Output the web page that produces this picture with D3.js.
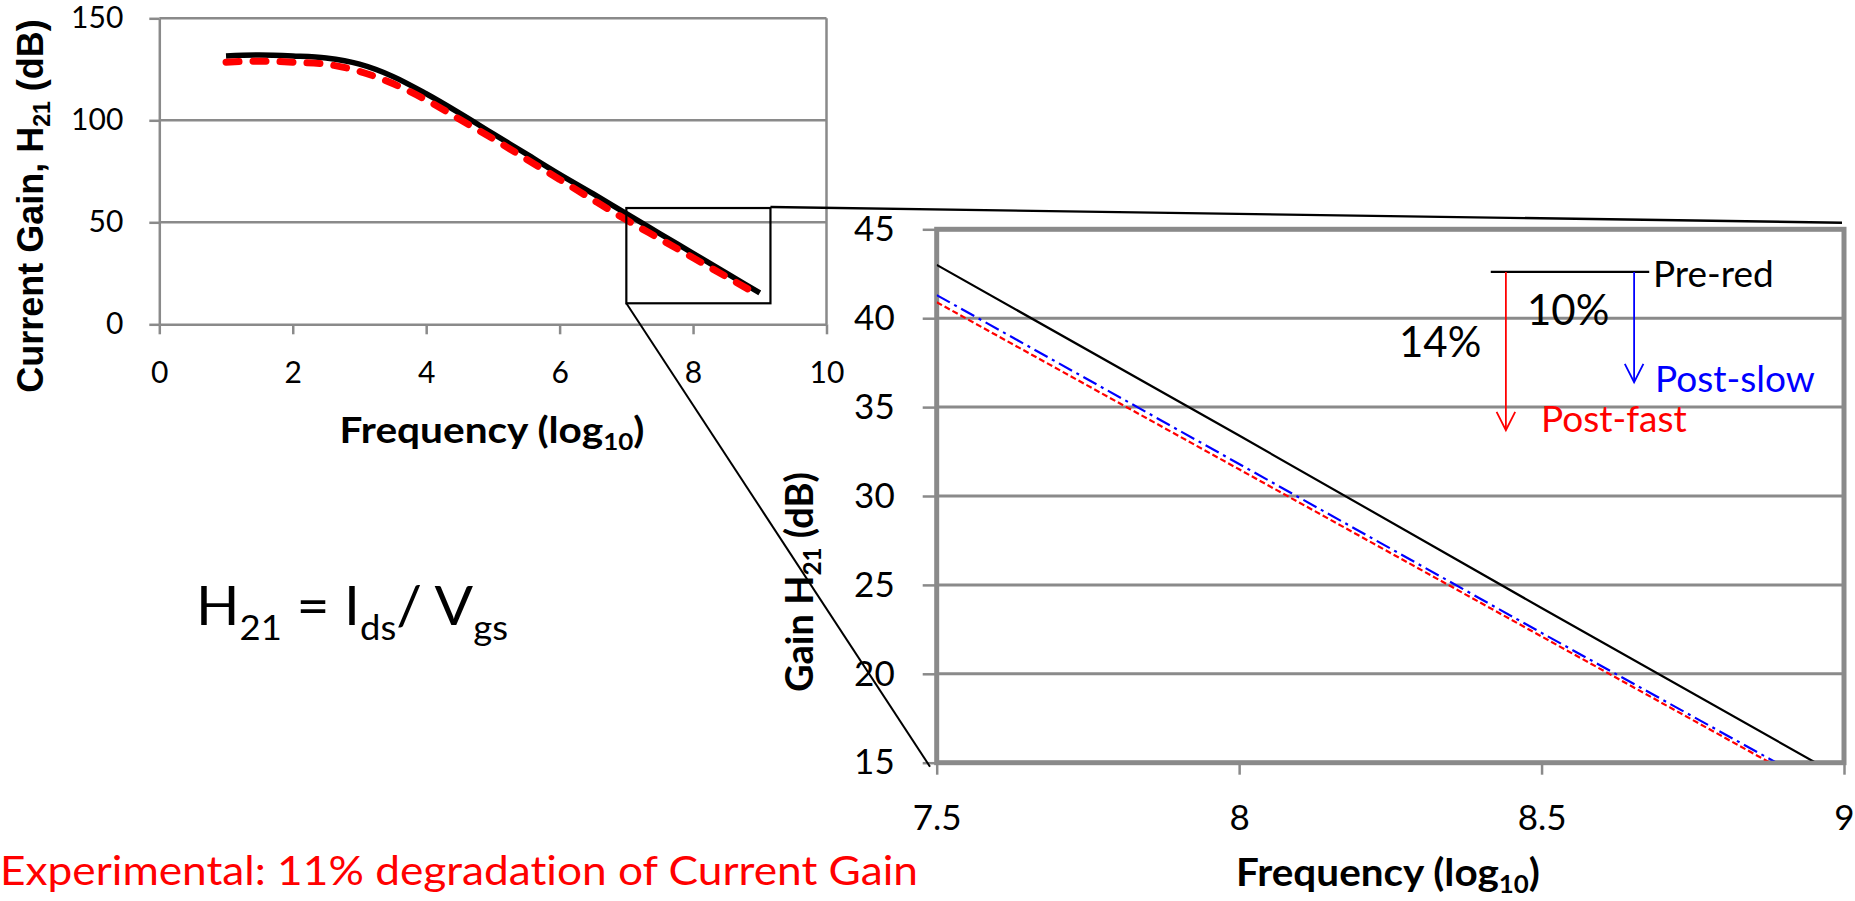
<!DOCTYPE html>
<html>
<head>
<meta charset="utf-8">
<script src="https://cdn.jsdelivr.net/npm/d3@7"></script>
<style>
  body { margin: 0; background: #fff; }
  svg { display: block; }
  text { font-variant-ligatures: none; font-feature-settings: "liga" 0; }
</style>
</head>
<body>
<svg id="chart" width="1855" height="901"></svg>
<script>
// ---- Overview chart: full sweep, log10 frequency vs current gain (dB)
const overviewFreq   = [1, 1.5, 2, 2.5, 3, 3.5, 4, 4.5, 5, 5.5, 6, 6.5, 7, 7.5, 8, 8.5, 9];
const overviewPreRed = [131.5, 132, 131.5, 130.5, 127.5, 121.5, 113, 103.5, 93.5, 83.5, 73.5, 64, 54.2, 44.5, 34.8, 25.1, 15.4];
const overviewPost   = [128.5, 129, 128.5, 127.5, 124, 118, 110, 100.5, 91, 81, 71, 61, 51.2, 41.9, 32.6, 23.3, 14.0];
const overviewXTicks = [0, 2, 4, 6, 8, 10];
const overviewYTicks = [0, 50, 100, 150];
// region of the overview that is enlarged in the detail chart
const zoomFreqRange = [7.0, 9.16];
const zoomGainRange = [10.3, 57];

// ---- Detail chart: 7.5 .. 9 decades
const detailFreq     = [7.5, 8, 8.5, 9];
const detailPreRed   = [43.0, 33.4, 23.7, 14.1];
const detailPostSlow = [41.3, 31.8, 22.3, 12.9];
const detailPostFast = [40.9, 31.5, 22.1, 12.7];
const detailXTicks   = [7.5, 8, 8.5, 9];
const detailYTicks   = [15, 20, 25, 30, 35, 40, 45];

// ---- Degradation annotation (detail chart data units)
const refBarFreq    = [8.416, 8.678];
const refBarGain    = 42.6;
const arrowFreq     = [8.441, 8.653];
const arrowEndGain  = [33.7, 36.4];
const arrowColors   = ["#ff0000", "#0000ff"];
const arrowPercents = ["14%", "10%"];

const GRID = "#8a8a8a";
const FONT = "Lato, 'Open Sans', sans-serif";
const svg = d3.select("#chart");

// text with subscript runs: parts = [[text, isSub], ...]
function richText(sel, parts, size, subShift) {
  let shifted = false;
  parts.forEach(([t, sub]) => {
    const ts = sel.append("tspan").text(t);
    if (sub && !shifted) { ts.attr("dy", subShift).attr("font-size", size * 0.64); shifted = true; }
    else if (!sub && shifted) { ts.attr("dy", -subShift); shifted = false; }
    else if (sub) ts.attr("font-size", size * 0.64);
  });
  return sel;
}

// ================= Overview chart =================
const ox = d3.scaleLinear().domain([0, 10]).range([159.3, 826.5]);
const oy = d3.scaleLinear().domain([0, 150]).range([324.3, 18.3]);
const ov = svg.append("g");

ov.selectAll("line.grid").data(overviewYTicks.filter(d => d > 0)).join("line")
  .attr("class", "grid")
  .attr("x1", ox(0)).attr("x2", ox(10))
  .attr("y1", d => oy(d)).attr("y2", d => oy(d))
  .attr("stroke", GRID).attr("stroke-width", 2.5);
ov.append("line")
  .attr("x1", ox(10)).attr("x2", ox(10)).attr("y1", oy(150)).attr("y2", oy(0))
  .attr("stroke", GRID).attr("stroke-width", 2.5);

function styleAxis(g, fontSize) {
  g.selectAll(".domain").attr("stroke", GRID).attr("stroke-width", 2.5);
  g.selectAll(".tick line").attr("stroke", GRID).attr("stroke-width", 2.5);
  g.selectAll(".tick text").attr("fill", "#000").attr("font-family", FONT).attr("font-size", fontSize);
}

ov.append("g").attr("transform", `translate(${ox(0)},0)`)
  .call(d3.axisLeft(oy).tickValues(overviewYTicks).tickSize(10).tickSizeOuter(0).tickPadding(26))
  .call(g => styleAxis(g, 30));
ov.append("g").attr("transform", `translate(0,${oy(0)})`)
  .call(d3.axisBottom(ox).tickValues(overviewXTicks).tickSize(10).tickSizeOuter(0).tickPadding(27))
  .call(g => styleAxis(g, 30));

const oLine = d3.line().x(d => ox(d[0])).y(d => oy(d[1])).curve(d3.curveMonotoneX);
ov.append("path").datum(d3.zip(overviewFreq, overviewPreRed))
  .attr("d", oLine).attr("fill", "none").attr("stroke", "#000").attr("stroke-width", 5.5);
ov.append("path").datum(d3.zip(overviewFreq, overviewPost))
  .attr("d", oLine).attr("fill", "none").attr("stroke", "#ff0000").attr("stroke-width", 7)
  .attr("stroke-dasharray", "13,14").attr("stroke-linecap", "round");

// enlarged window
ov.append("rect")
  .attr("x", ox(zoomFreqRange[0])).attr("y", oy(zoomGainRange[1]))
  .attr("width", ox(zoomFreqRange[1]) - ox(zoomFreqRange[0]))
  .attr("height", oy(zoomGainRange[0]) - oy(zoomGainRange[1]))
  .attr("fill", "none").attr("stroke", "#000").attr("stroke-width", 2.2);

// titles
richText(ov.append("text")
  .attr("transform", "translate(43,206) rotate(-90)")
  .attr("text-anchor", "middle").attr("font-family", "'Liberation Sans', Arial, sans-serif")
  .attr("font-weight", "bold").attr("font-size", 36),
  [["Current Gain, H", false], ["21", true], [" (dB)", false]], 36, 7);
richText(ov.append("text")
  .attr("x", 492).attr("y", 443).attr("text-anchor", "middle")
  .attr("font-family", FONT).attr("font-weight", "bold").attr("font-size", 37)
  .attr("textLength", 305).attr("lengthAdjust", "spacingAndGlyphs"),
  [["Frequency (log", false], ["10", true], [")", false]], 37, 7);

// ================= Detail chart =================
const dx = d3.scaleLinear().domain([7.5, 9]).range([936.7, 1844]);
const dy = d3.scaleLinear().domain([15, 45]).range([762.7, 229.3]);
const dt = svg.append("g");

dt.selectAll("line.grid").data(detailYTicks.filter(d => d > 15 && d < 45)).join("line")
  .attr("class", "grid")
  .attr("x1", dx(7.5)).attr("x2", dx(9))
  .attr("y1", d => dy(d)).attr("y2", d => dy(d))
  .attr("stroke", GRID).attr("stroke-width", 3);

dt.append("g").attr("transform", `translate(${dx(7.5)},0)`)
  .call(d3.axisLeft(dy).tickValues(detailYTicks).tickSize(14).tickSizeOuter(0).tickPadding(28))
  .call(g => { styleAxis(g, 35); g.select(".domain").remove(); });
dt.append("g").attr("transform", `translate(0,${dy(15)})`)
  .call(d3.axisBottom(dx).tickValues(detailXTicks).tickSize(12).tickSizeOuter(0).tickPadding(30)
    .tickFormat(d3.format("")))
  .call(g => { styleAxis(g, 35); g.select(".domain").remove(); });

dt.append("rect")
  .attr("x", dx(7.5)).attr("y", dy(45))
  .attr("width", dx(9) - dx(7.5)).attr("height", dy(15) - dy(45))
  .attr("fill", "none").attr("stroke", GRID).attr("stroke-width", 5);

svg.append("defs").append("clipPath").attr("id", "detail-clip")
  .append("rect")
  .attr("x", dx(7.5)).attr("y", dy(45))
  .attr("width", dx(9) - dx(7.5)).attr("height", dy(15) - dy(45) - 2);

const dLine = d3.line().x(d => dx(d[0])).y(d => dy(d[1]));
const dSeries = dt.append("g").attr("clip-path", "url(#detail-clip)");
dSeries.append("path").datum(d3.zip(detailFreq, detailPostFast))
  .attr("d", dLine).attr("fill", "none").attr("stroke", "#ff0000").attr("stroke-width", 2.2)
  .attr("stroke-dasharray", "6,3");
dSeries.append("path").datum(d3.zip(detailFreq, detailPostSlow))
  .attr("d", dLine).attr("fill", "none").attr("stroke", "#0000ff").attr("stroke-width", 2.2)
  .attr("stroke-dasharray", "15,5,3,5");
dSeries.append("path").datum(d3.zip(detailFreq, detailPreRed))
  .attr("d", dLine).attr("fill", "none").attr("stroke", "#000").attr("stroke-width", 2.2);

// degradation annotation
dt.append("line")
  .attr("x1", dx(refBarFreq[0])).attr("x2", dx(refBarFreq[1]))
  .attr("y1", dy(refBarGain)).attr("y2", dy(refBarGain))
  .attr("stroke", "#000").attr("stroke-width", 2.2);
arrowFreq.forEach((f, i) => {
  const x = dx(f), y0 = dy(refBarGain), y1 = dy(arrowEndGain[i]);
  dt.append("line").attr("x1", x).attr("x2", x).attr("y1", y0).attr("y2", y1)
    .attr("stroke", arrowColors[i]).attr("stroke-width", 1.8);
  dt.append("path").attr("d", `M${x - 9.3},${y1 - 18.3}L${x},${y1}L${x + 9.3},${y1 - 18.3}`)
    .attr("fill", "none").attr("stroke", arrowColors[i]).attr("stroke-width", 1.8);
});
dt.append("text").attr("x", 1653).attr("y", 287).attr("font-family", FONT).attr("font-size", 37)
  .attr("fill", "#000").text("Pre-red");
dt.append("text").attr("x", 1541).attr("y", 432).attr("font-family", FONT).attr("font-size", 37)
  .attr("fill", "#ff0000").text("Post-fast");
dt.append("text").attr("x", 1655).attr("y", 392).attr("font-family", FONT).attr("font-size", 37)
  .attr("fill", "#0000ff").text("Post-slow");
dt.append("text").attr("x", 1399).attr("y", 357).attr("font-family", FONT).attr("font-size", 42)
  .attr("fill", "#000").text(arrowPercents[0]);
dt.append("text").attr("x", 1527).attr("y", 325).attr("font-family", FONT).attr("font-size", 42)
  .attr("fill", "#000").text(arrowPercents[1]);

// titles
richText(dt.append("text")
  .attr("transform", "translate(813,582) rotate(-90)")
  .attr("text-anchor", "middle").attr("font-family", FONT)
  .attr("font-weight", "bold").attr("font-size", 38),
  [["Gain H", false], ["21", true], [" (dB)", false]], 38, 8);
richText(dt.append("text")
  .attr("x", 1388).attr("y", 886).attr("text-anchor", "middle")
  .attr("font-family", FONT).attr("font-weight", "bold").attr("font-size", 38)
  .attr("textLength", 304).attr("lengthAdjust", "spacingAndGlyphs"),
  [["Frequency (log", false], ["10", true], [")", false]], 38, 7);

// ================= Free text =================
richText(svg.append("text")
  .attr("x", 196).attr("y", 625).attr("font-family", FONT).attr("font-size", 54).attr("fill", "#000")
  .attr("textLength", 312).attr("lengthAdjust", "spacingAndGlyphs"),
  [["H", false], ["21", true], [" = I", false], ["ds", true], ["/ V", false], ["gs", true]], 54, 15);
svg.append("text")
  .attr("x", 0).attr("y", 885).attr("font-family", FONT).attr("font-size", 40).attr("fill", "#ff0000")
  .attr("textLength", 918).attr("lengthAdjust", "spacingAndGlyphs")
  .text("Experimental: 11% degradation of Current Gain");

// ================= Connectors between the two charts =================
svg.append("line")
  .attr("x1", ox(zoomFreqRange[1])).attr("y1", oy(zoomGainRange[1]) - 1)
  .attr("x2", dx(9) - 2).attr("y2", dy(45) - 6.6)
  .attr("stroke", "#000").attr("stroke-width", 2.4);
svg.append("line")
  .attr("x1", ox(zoomFreqRange[0])).attr("y1", oy(zoomGainRange[0]))
  .attr("x2", dx(7.5) - 6.7).attr("y2", dy(15) + 4)
  .attr("stroke", "#000").attr("stroke-width", 2);
</script>
</body>
</html>
